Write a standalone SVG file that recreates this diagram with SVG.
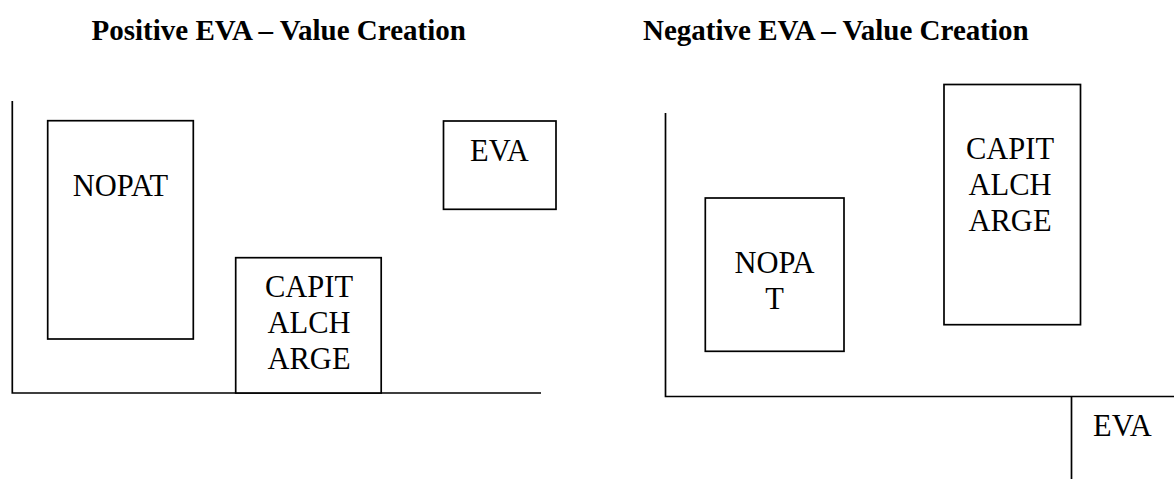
<svg xmlns="http://www.w3.org/2000/svg" width="1174" height="479" viewBox="0 0 1174 479">
<style>
.title{font-family:"Liberation Serif","Times New Roman",serif;font-weight:bold;font-size:29px;fill:#000}
.lbl{font-family:"Liberation Serif","Times New Roman",serif;font-size:30.5px;fill:#000;text-anchor:middle}
.box{fill:#fff;stroke:#000;stroke-width:1.7}
.ax{stroke:#000;stroke-width:1.7;fill:none}
</style>
<rect width="1174" height="479" fill="#fff"/>
<text class="title" x="91.5" y="39.5">Positive EVA – Value Creation</text>
<text class="title" x="643" y="39.5">Negative EVA – Value Creation</text>
<g id="connectors">
<path class="ax" d="M12.3 101 V393 H541"/>
<path class="ax" d="M665.5 113 V396.5 H1174"/>
<path class="ax" d="M1071.5 396.5 V479"/>
</g>
<g id="pos-nopat">
<rect class="box" x="47.7" y="120.7" width="145.6" height="218.3"/>
<text class="lbl" x="120.5" y="196">NOPAT</text>
</g>
<g id="pos-capital-charge">
<rect class="box" x="235.7" y="257.7" width="145.5" height="135.3"/>
<text class="lbl" x="309" y="296.7">CAPIT</text>
<text class="lbl" x="309" y="333">ALCH</text>
<text class="lbl" x="309" y="369">ARGE</text>
</g>
<g id="pos-eva">
<rect class="box" x="443.5" y="121" width="112.5" height="88.3"/>
<text class="lbl" x="499.5" y="160.7">EVA</text>
</g>
<g id="neg-nopat">
<rect class="box" x="705.3" y="198" width="138.7" height="153.3"/>
<text class="lbl" x="774.5" y="273">NOPA</text>
<text class="lbl" x="774.5" y="309">T</text>
</g>
<g id="neg-capital-charge">
<rect class="box" x="944" y="84.5" width="136.5" height="240.2"/>
<text class="lbl" x="1010" y="158.5">CAPIT</text>
<text class="lbl" x="1010" y="194.7">ALCH</text>
<text class="lbl" x="1010" y="230.8">ARGE</text>
</g>
<g id="neg-eva">
<text class="lbl" x="1122.5" y="436">EVA</text>
</g>
</svg>
